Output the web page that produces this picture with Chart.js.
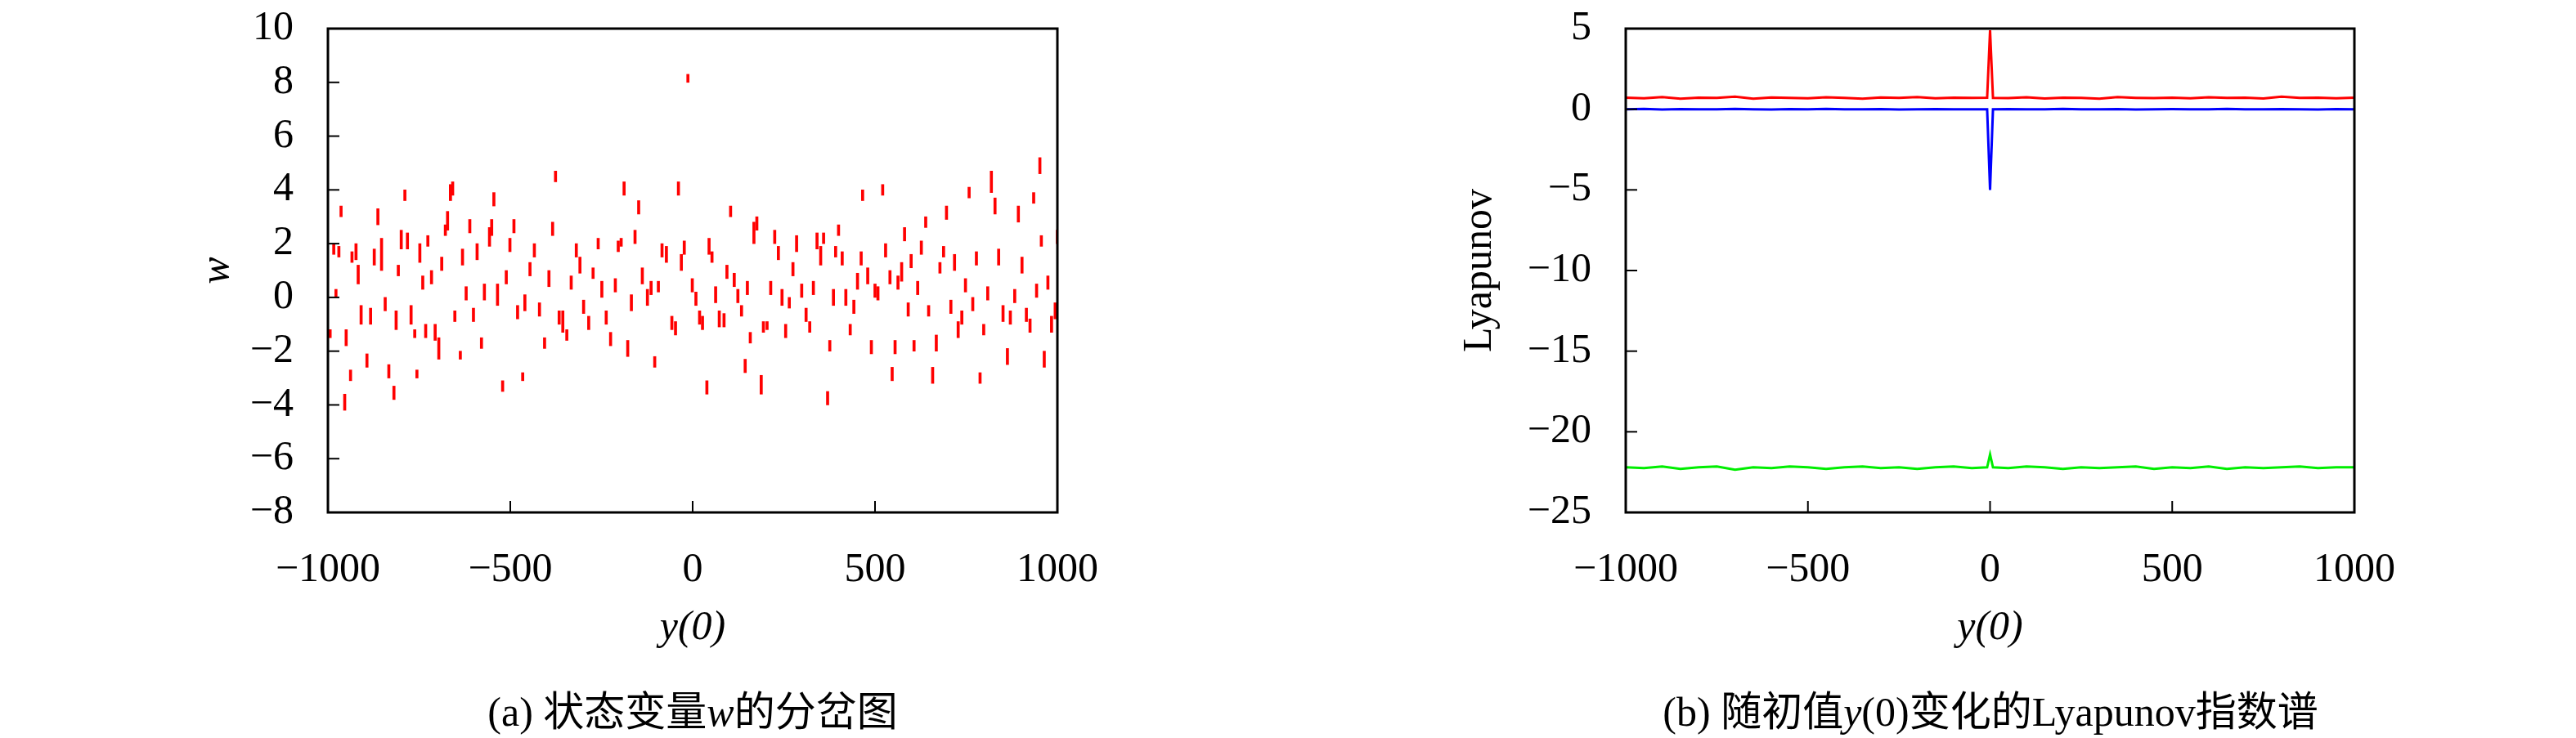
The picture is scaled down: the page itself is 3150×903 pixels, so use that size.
<!DOCTYPE html>
<html>
<head>
<meta charset="utf-8">
<script src="https://cdn.jsdelivr.net/npm/chart.js@4/dist/chart.umd.min.js"></script>
<style>
  body { margin: 0; width: 3150px; height: 903px; background: #fff; position: relative; overflow: hidden; }
  .box { position: absolute; top: 0; height: 820px; }
  .cap { position: absolute; top: 830px; font: 50px "Liberation Serif", "Noto Sans CJK SC", serif; white-space: nowrap; transform: translateX(-50%); }
</style>
</head>
<body>
<div class="box" style="left:0;width:1400px"><canvas id="wChart"></canvas></div>
<div class="box" style="left:1575px;width:1575px"><canvas id="lyaChart"></canvas></div>
<div class="cap" style="left:847px">(a) 状态变量<i>w</i>的分岔图</div>
<div class="cap" style="left:2434px">(b) 随初值<i>y</i>(0)变化的Lyapunov指数谱</div>
<script>
// bifurcation dashes: x position, low end, high end
const wX = [-994,-984,-978,-970,-964,-954,-950,-938,-934,-923,-917,-909,-893,-883,-873,-863,-853,-843,-833,-819,-813,-807,-799,-789,-782,-772,-762,-756,-748,-740,-732,-726,-716,-706,-696,-688,-678,-672,-664,-658,-652,-637,-631,-621,-611,-601,-591,-579,-571,-557,-551,-545,-535,-521,-511,-501,-490,-480,-466,-460,-446,-434,-420,-406,-394,-384,-376,-366,-356,-345,-333,-319,-309,-299,-285,-273,-259,-249,-237,-225,-212,-204,-196,-188,-178,-168,-158,-148,-138,-124,-114,-104,-94,-84,-72,-57,-47,-39,-31,-23,-13,-1,9,19,27,39,45,53,63,73,86,94,104,114,124,134,144,150,158,168,176,188,194,204,214,225,235,245,255,265,275,285,299,311,321,331,341,351,359,370,376,386,392,400,410,420,432,442,452,462,466,480,490,500,508,521,529,541,547,555,563,573,581,591,599,607,617,627,639,647,658,668,678,688,696,708,718,728,738,748,758,768,778,788,798,809,819,829,839,851,863,871,883,893,903,915,925,935,943,952,956,964,974,984,994,1000];
const wLo = [-1.5,1.6,0.0,1.5,3.0,-4.2,-1.8,-3.1,1.3,1.4,0.5,-1.0,-2.6,-1.0,1.2,2.7,1.0,-0.5,-3.0,-3.8,-1.2,0.8,1.8,3.6,1.8,-1.0,-1.5,-3.0,1.3,0.3,-1.5,1.9,0.5,-1.6,-2.3,1.0,2.3,2.5,3.6,3.8,-0.9,-2.3,1.2,-0.1,2.4,-0.9,1.4,-1.9,-0.1,1.9,2.3,3.4,-0.3,-3.5,0.5,1.7,2.4,-0.8,-3.1,-0.5,0.8,1.5,-0.7,-1.9,0.4,2.3,4.3,-1.0,-1.3,-1.6,0.3,1.5,0.9,-0.6,-1.2,0.7,1.8,0.0,-1.0,-1.8,0.2,1.7,1.9,3.8,-2.2,-0.5,2.0,3.1,0.5,-0.3,0.1,-2.6,0.2,1.5,1.3,-1.2,-1.4,3.8,1.0,1.6,8.0,0.2,-0.3,-1.0,-1.2,-3.6,1.6,1.3,-0.2,-1.1,-1.1,0.7,3.0,0.4,-0.2,-0.7,-2.8,0.1,-1.7,2.0,2.5,-3.6,-1.3,-1.2,0.1,2.0,1.4,-0.3,-1.5,-0.4,0.8,1.7,0.0,-0.9,-1.3,0.1,1.8,1.2,2.0,-4.0,-2.0,-0.3,1.5,2.3,1.2,-0.3,-1.4,-0.6,0.3,1.2,3.6,0.5,-2.1,0.0,-0.1,3.8,1.5,0.5,-3.1,-2.1,0.3,0.6,2.1,-0.7,1.1,-2.0,0.1,1.6,2.6,-0.7,-3.2,-2.0,0.9,1.5,2.9,-0.6,1.0,-1.5,-1.0,0.2,3.7,-0.5,1.2,-3.2,-1.4,-0.1,3.9,3.1,1.2,-0.9,-2.5,-1.0,-0.2,2.8,0.9,-0.9,-1.3,3.5,0.0,4.6,1.9,-2.6,0.3,-1.3,-0.8,2.0];
const wHi = [-1.2,2.0,0.3,1.9,3.4,-3.6,-1.2,-2.7,1.7,2.0,1.2,-0.3,-2.1,-0.4,1.8,3.3,2.2,0.0,-2.5,-3.3,-0.5,1.2,2.5,4.0,2.4,-0.3,-1.2,-2.7,2.0,0.8,-1.0,2.3,1.0,-1.0,-1.5,1.5,2.7,3.2,4.2,4.3,-0.5,-2.0,1.8,0.4,2.9,-0.4,2.0,-1.5,0.5,2.6,2.9,3.9,0.5,-3.1,1.0,2.2,2.9,-0.3,-2.8,0.1,1.3,2.0,-0.2,-1.5,1.0,2.8,4.7,-0.5,-0.5,-1.2,0.8,2.0,1.5,-0.1,-0.7,1.1,2.2,0.6,-0.5,-1.3,0.7,2.1,2.2,4.3,-1.6,0.1,2.5,3.6,1.1,0.3,0.6,-2.2,0.6,2.0,1.9,-0.7,-0.9,4.3,1.6,2.1,8.3,0.7,0.2,-0.5,-0.7,-3.1,2.2,1.7,0.4,-0.5,-0.6,1.2,3.4,0.9,0.3,-0.3,-2.3,0.6,-1.3,2.8,3.0,-2.9,-0.9,-0.9,0.6,2.5,1.9,0.3,-1.0,0.0,1.3,2.3,0.5,-0.4,-0.9,0.6,2.4,1.9,2.4,-3.5,-1.6,0.3,1.9,2.7,1.7,0.3,-1.0,-0.1,0.9,1.7,4.0,1.1,-1.6,0.5,0.4,4.2,2.0,1.0,-2.6,-1.6,0.8,1.3,2.6,-0.2,1.6,-1.6,0.6,2.1,3.0,-0.3,-2.6,-1.4,1.3,1.9,3.4,-0.1,1.6,-0.9,-0.5,0.7,4.1,0.0,1.7,-2.8,-1.0,0.4,4.7,3.7,1.8,-0.3,-1.9,-0.5,0.3,3.4,1.5,-0.4,-0.8,3.9,0.5,5.2,2.3,-2.0,0.8,-0.7,-0.2,2.5];

// Lyapunov spectrum vs y(0)
const lyaX = [-1000,-950,-900,-850,-800,-750,-700,-650,-600,-550,-500,-450,-400,-350,-300,-250,-200,-150,-100,-50,-8,0,8,50,100,150,200,250,300,350,400,450,500,550,600,650,700,750,800,850,900,950,1000];
const lya1 = [0.72,0.68,0.75,0.66,0.72,0.70,0.78,0.66,0.73,0.70,0.68,0.74,0.70,0.66,0.73,0.71,0.75,0.68,0.72,0.70,0.72,4.9,0.71,0.69,0.74,0.67,0.72,0.70,0.66,0.75,0.71,0.69,0.72,0.68,0.74,0.70,0.72,0.67,0.78,0.70,0.72,0.68,0.72];
const lya2 = [0.0,0.02,-0.02,0.01,0.0,-0.01,0.02,0.0,-0.02,0.01,0.0,0.02,-0.01,0.0,0.01,-0.02,0.0,0.01,-0.01,0.0,0.0,-5.0,0.0,0.01,-0.01,0.0,0.02,-0.01,0.0,0.01,-0.02,0.0,0.01,0.0,-0.01,0.02,0.0,-0.01,0.01,0.0,-0.02,0.01,0.0];
const lya3 = [-22.2,-22.25,-22.15,-22.3,-22.2,-22.15,-22.35,-22.2,-22.25,-22.15,-22.2,-22.3,-22.2,-22.15,-22.25,-22.2,-22.3,-22.2,-22.15,-22.25,-22.2,-21.4,-22.2,-22.25,-22.15,-22.2,-22.3,-22.2,-22.25,-22.2,-22.15,-22.3,-22.2,-22.25,-22.15,-22.3,-22.2,-22.25,-22.2,-22.15,-22.25,-22.2,-22.2];

const FONT = "'Liberation Serif', serif";
const fmt = v => v < 0 ? "\u2212" + (-v) : String(v);

// frame + inward tick marks
const framePlugin = {
  id: "frame",
  afterDraw(chart) {
    const { ctx, chartArea: a, scales } = chart;
    ctx.save();
    ctx.strokeStyle = "#000";
    ctx.lineWidth = 2;
    scales.x.ticks.forEach(t => {
      const px = scales.x.getPixelForValue(t.value);
      ctx.beginPath(); ctx.moveTo(px, a.bottom); ctx.lineTo(px, a.bottom - 14); ctx.stroke();
    });
    scales.y.ticks.forEach(t => {
      const py = scales.y.getPixelForValue(t.value);
      ctx.beginPath(); ctx.moveTo(a.left, py); ctx.lineTo(a.left + 14, py); ctx.stroke();
    });
    ctx.lineWidth = 3;
    ctx.strokeRect(a.left, a.top, a.right - a.left, a.bottom - a.top);
    ctx.restore();
  }
};

function axes(yMin, yMax, yStep, yTitle, yTitleFont, yWidth, titlePad) {
  return {
    x: {
      type: "linear", min: -1000, max: 1000, offset: false,
      grid: { display: false, drawTicks: false, offset: false },
      border: { display: false },
      ticks: { stepSize: 500, padding: 41, color: "#000", font: { family: FONT, size: 50 }, callback: fmt, maxRotation: 0, autoSkip: false },
      title: { display: true, text: "y(0)", color: "#000", font: { family: FONT, size: 50, style: "italic" }, padding: { top: 0, bottom: 21 } },
      afterFit(s) { s.height = 193; }
    },
    y: {
      min: yMin, max: yMax,
      grid: { display: false, drawTicks: false },
      border: { display: false },
      ticks: { stepSize: yStep, padding: 42, color: "#000", font: { family: FONT, size: 50 }, callback: fmt, autoSkip: false },
      title: { display: true, text: yTitle, color: "#000", font: yTitleFont, padding: { top: titlePad, bottom: 0 } },
      afterFit(s) { s.width = yWidth; s.paddingTop = 0; }
    }
  };
}

new Chart(document.getElementById("wChart"), {
  type: "bar",
  data: {
    datasets: [{
      data: wX.map((x, i) => ({ x: x, y: [wLo[i], wHi[i]] })),
      backgroundColor: "#ff0000",
      barThickness: 3
    }]
  },
  options: {
    responsive: true, maintainAspectRatio: false, animation: false,
    layout: { padding: { left: 200, right: 107, top: 35, bottom: 0 } },
    plugins: { legend: { display: false }, tooltip: { enabled: false } },
    scales: axes(-8, 10, 2, "w", { family: FONT, size: 50, style: "italic" }, 201, 36)
  },
  plugins: [framePlugin]
});

const line = (ys, color) => ({
  data: lyaX.map((x, i) => ({ x: x, y: ys[i] })),
  borderColor: color, borderWidth: 3, pointRadius: 0, tension: 0
});

new Chart(document.getElementById("lyaChart"), {
  type: "line",
  data: { datasets: [line(lya1, "#ff0000"), line(lya2, "#0000ff"), line(lya3, "#00ee00")] },
  options: {
    responsive: true, maintainAspectRatio: false, animation: false,
    layout: { padding: { left: 170, right: 271, top: 35, bottom: 0 } },
    plugins: { legend: { display: false }, tooltip: { enabled: false } },
    scales: axes(-25, 5, 5, "Lyapunov", { family: FONT, size: 50 }, 243, 35)
  },
  plugins: [framePlugin]
});
</script>
</body>
</html>
